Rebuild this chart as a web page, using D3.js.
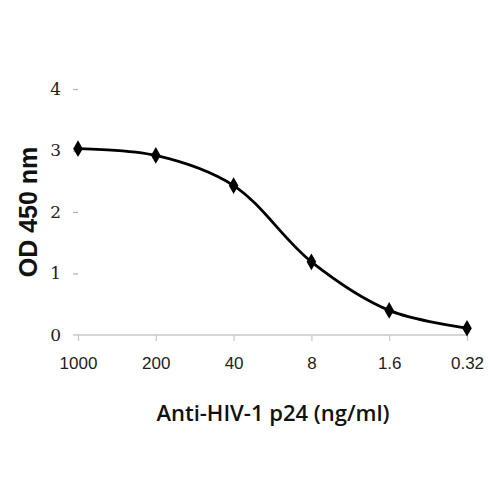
<!DOCTYPE html>
<html>
<head>
<meta charset="utf-8">
<script src="https://cdn.jsdelivr.net/npm/d3@7"></script>
<style>
  body { margin: 0; background: #fff; }
</style>
</head>
<body>
<svg></svg>
<script>
// dilutions of anti-HIV-1 p24 (ng/ml)
var concentrations = ["1000", "200", "40", "8", "1.6", "0.32"];
var odValues = [3.03, 2.92, 2.43, 1.19, 0.40, 0.11];
var yTicks = [0, 1, 2, 3, 4];

var width = 500
var height = 500

var svg = d3.select("svg")
        .attr("width", width)
        .attr("height", height);

var data = concentrations.map(function(c, i){
  return {conc: c, od: odValues[i]};
});

var xScale = d3.scalePoint()
               .domain(concentrations)
               .range([78, 467]);

var yScale = d3.scaleLinear()
               .domain([0, 4])
               .range([335, 89]);

// x axis line and ticks
var xAxis = d3.axisBottom()
              .scale(xScale)
              .tickSize(6)
              .tickPadding(16);

var gx = svg.append("g")
   .attr("transform", "translate(0,335)")
   .call(xAxis);

gx.select(".domain").attr("d", "M73,0H467").attr("stroke", "#c8c8c8").attr("stroke-width", 1.5);
gx.selectAll(".tick line").attr("stroke", "#c8c8c8").attr("stroke-width", 1.2);
gx.selectAll(".tick text")
  .attr("font-family", "Liberation Sans Narrow, Liberation Sans, Arial, sans-serif")
  .attr("font-size", 17)
  .attr("fill", "#222");

// y axis: just small tick marks and labels, no line
var yAxis = d3.axisLeft()
              .scale(yScale)
              .tickValues(yTicks)
              .tickFormat(d3.format("d"))
              .tickSize(5)
              .tickPadding(12);

var gy = svg.append("g")
   .attr("transform", "translate(78,0)")
   .call(yAxis);

gy.select(".domain").remove();
gy.selectAll(".tick line").attr("stroke", "#b0b0b0").attr("stroke-width", 1.2);
gy.selectAll(".tick text")
  .attr("font-family", "DejaVu Serif, serif")
  .attr("font-size", 17)
  .attr("fill", "#222");
gy.selectAll(".tick").filter(function(d){ return d === 0; }).select("line").remove();

// smoothed curve
var line = d3.line()
             .x(function(d){ return xScale(d.conc); })
             .y(function(d){ return yScale(d.od); })
             .curve(d3.curveCatmullRom.alpha(0.5));

svg.append("path")
   .datum(data)
   .attr("d", line)
   .attr("fill", "none")
   .attr("stroke", "#000")
   .attr("stroke-width", 2.8);

svg.selectAll(".pt")
   .data(data)
   .enter()
   .append("path")
   .attr("class", "pt")
   .attr("d", d3.symbol().type(d3.symbolDiamond).size(80))
   .attr("transform", function(d){
     return "translate(" + xScale(d.conc) + "," + yScale(d.od) + ")";
   })
   .attr("fill", "#000");

// axis titles
svg.append("text")
   .attr("x", 273)
   .attr("y", 421)
   .attr("text-anchor", "middle")
   .attr("font-family", "Open Sans, Liberation Sans, sans-serif")
   .attr("font-weight", 600)
   .attr("font-size", 22)
   .attr("fill", "#111")
   .text("Anti-HIV-1 p24 (ng/ml)");

svg.append("text")
   .attr("transform", "translate(37,212) rotate(-90)")
   .attr("text-anchor", "middle")
   .attr("font-family", "Liberation Sans, Arial, sans-serif")
   .attr("font-weight", "bold")
   .attr("font-size", 25)
   .attr("fill", "#111")
   .text("OD 450 nm");
</script>
</body>
</html>
